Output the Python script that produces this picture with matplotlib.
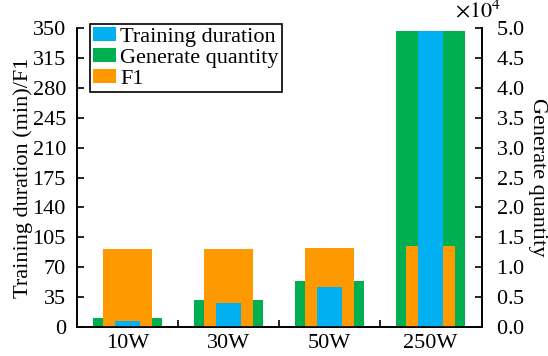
import matplotlib.pyplot as plt
from matplotlib.ticker import MultipleLocator, FixedLocator, ScalarFormatter
import numpy as np

plt.rcParams['font.family'] = ['Liberation Serif', 'DejaVu Serif']
plt.rcParams['mathtext.fontset'] = 'stix'

# data
groups = ['10W', '30W', '50W', '250W']
train_time = [7, 28, 47, 347]          # min
f1 = [91.3, 91.3, 92.5, 94.8]
gen_qty = [1550, 4500, 7700, 49500]

c_blue = '#00B0F0'
c_green = '#00B050'
c_orange = '#FF9900'
fs = 16

x = np.arange(len(groups))

fig = plt.figure(figsize=(5.48, 3.56), dpi=100)
ax1 = fig.add_axes([0.1405, 0.0815, 0.739, 0.8395])
ax2 = ax1.twinx()

# green bars go on the right axis but must sit behind the others
b_gen = ax2.bar(x, gen_qty, width=0.68, color=c_green, label='Generate quantity')
ax1.set_zorder(ax2.get_zorder() + 1)
ax1.patch.set_visible(False)

b_f1 = ax1.bar(x, f1, width=0.48, color=c_orange, label='F1')
b_tr = ax1.bar(x, train_time, width=0.24, color=c_blue, label='Training duration')

ax1.set_xlim(-0.5, 3.51)
ax1.set_ylim(0, 350)
ax1.yaxis.set_major_locator(MultipleLocator(35))
ax2.set_ylim(0, 50000)
ax2.yaxis.set_major_locator(MultipleLocator(5000))

fmt = ScalarFormatter(useMathText=True)
fmt.set_powerlimits((0, 0))
ax2.yaxis.set_major_formatter(fmt)
ax2.yaxis.get_offset_text().set_visible(False)
ax2.text(0.99, 1.02, r'$\times10^{4}$', transform=ax2.transAxes,
         ha='center', va='bottom', fontsize=fs)

ax1.set_xticks(x)
ax1.set_xticklabels(groups, fontsize=fs)
ax1.xaxis.set_minor_locator(FixedLocator([0.5, 1.5, 2.5]))
ax1.tick_params(axis='x', which='major', length=0, pad=5)
ax1.tick_params(axis='x', which='minor', direction='in', length=5, width=1.2)
ax1.tick_params(axis='y', direction='in', length=5, width=1.2, labelsize=fs, pad=8)
ax2.tick_params(axis='y', direction='in', length=5, width=1.2, labelsize=fs, pad=10)

for a in (ax1, ax2):
    a.spines['top'].set_visible(False)
    for s in ('left', 'right', 'bottom'):
        a.spines[s].set_linewidth(1.2)

ax1.set_ylabel('Training duration (min)/F1', fontsize=fs, labelpad=0)
ax2.set_ylabel('Generate quantity', fontsize=fs, rotation=270, labelpad=16)

leg = ax1.legend(handles=[b_tr, b_gen, b_f1], loc='upper left',
                 bbox_to_anchor=(0.032, 1.015), fontsize=fs, frameon=True,
                 fancybox=False, edgecolor='black', framealpha=1,
                 handlelength=1.0, handleheight=0.6, handletextpad=0.2,
                 labelspacing=0.05, borderpad=0.15, borderaxespad=0.0)
leg.get_frame().set_linewidth(1.2)

fig.savefig('out.png', dpi=100)
